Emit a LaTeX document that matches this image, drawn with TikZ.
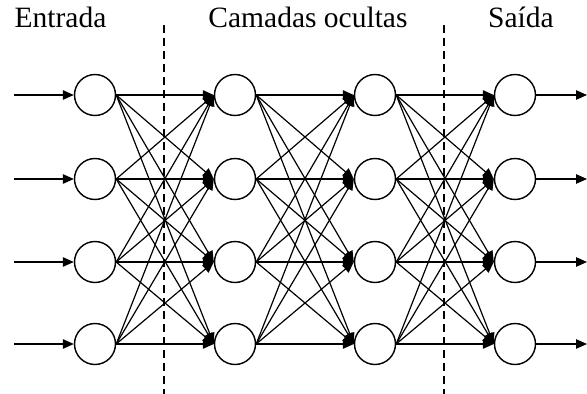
\documentclass[tikz,border=0pt]{standalone}
\usepackage{fontspec}
\setmainfont{Liberation Serif}
\usetikzlibrary{arrows.meta}
\begin{document}
\begin{tikzpicture}[x=1pt,y=-1pt,
  neuron/.style={circle,draw,line width=1.4pt,minimum size=41pt,inner sep=0pt,fill=white},
  conn/.style={line width=1.2pt,-{Triangle[length=11pt,width=9.5pt]}},
  sep/.style={line width=1.2pt,dash pattern=on 8pt off 5pt},
  title/.style={font=\fontsize{29.5}{34}\selectfont,anchor=base}]
\useasboundingbox (0,0) rectangle (587,394);
% dashed separators
\coordinate (d1t) at (164,25); \coordinate (d1b) at (164,394);
\coordinate (d2t) at (444,25); \coordinate (d2b) at (444,394);
\draw[sep] (d1t) -- (d1b);
\draw[sep] (d2t) -- (d2b);
% titles
\node[title] (t1) at (60.5,27) {Entrada};
\node[title] (t2) at (308,27) {Camadas ocultas};
\node[title] (t3) at (521,27) {Saída};
% neurons
\foreach \c/\x in {1/95,2/235,3/375,4/515}{
  \foreach \r/\y in {1/95,2/179,3/262,4/344}{
    \node[neuron] (n\c\r) at (\x,\y) {};
  }
}
% input / output
\foreach \r/\y in {1/95,2/179,3/262,4/344}{
  \coordinate (in\r) at (14,\y);
  \coordinate (out\r) at (587,\y);
  \draw[conn] (in\r) -- (n1\r.west);
  \draw[conn] (n4\r.east) -- (out\r);
}
% connections
\foreach \a/\b in {1/2,2/3,3/4}{
  \foreach \i in {1,2,3,4}{
    \foreach \j in {1,2,3,4}{
      \draw[conn] (n\a\i.east) -- (n\b\j.west);
    }
  }
}
\end{tikzpicture}
\end{document}
